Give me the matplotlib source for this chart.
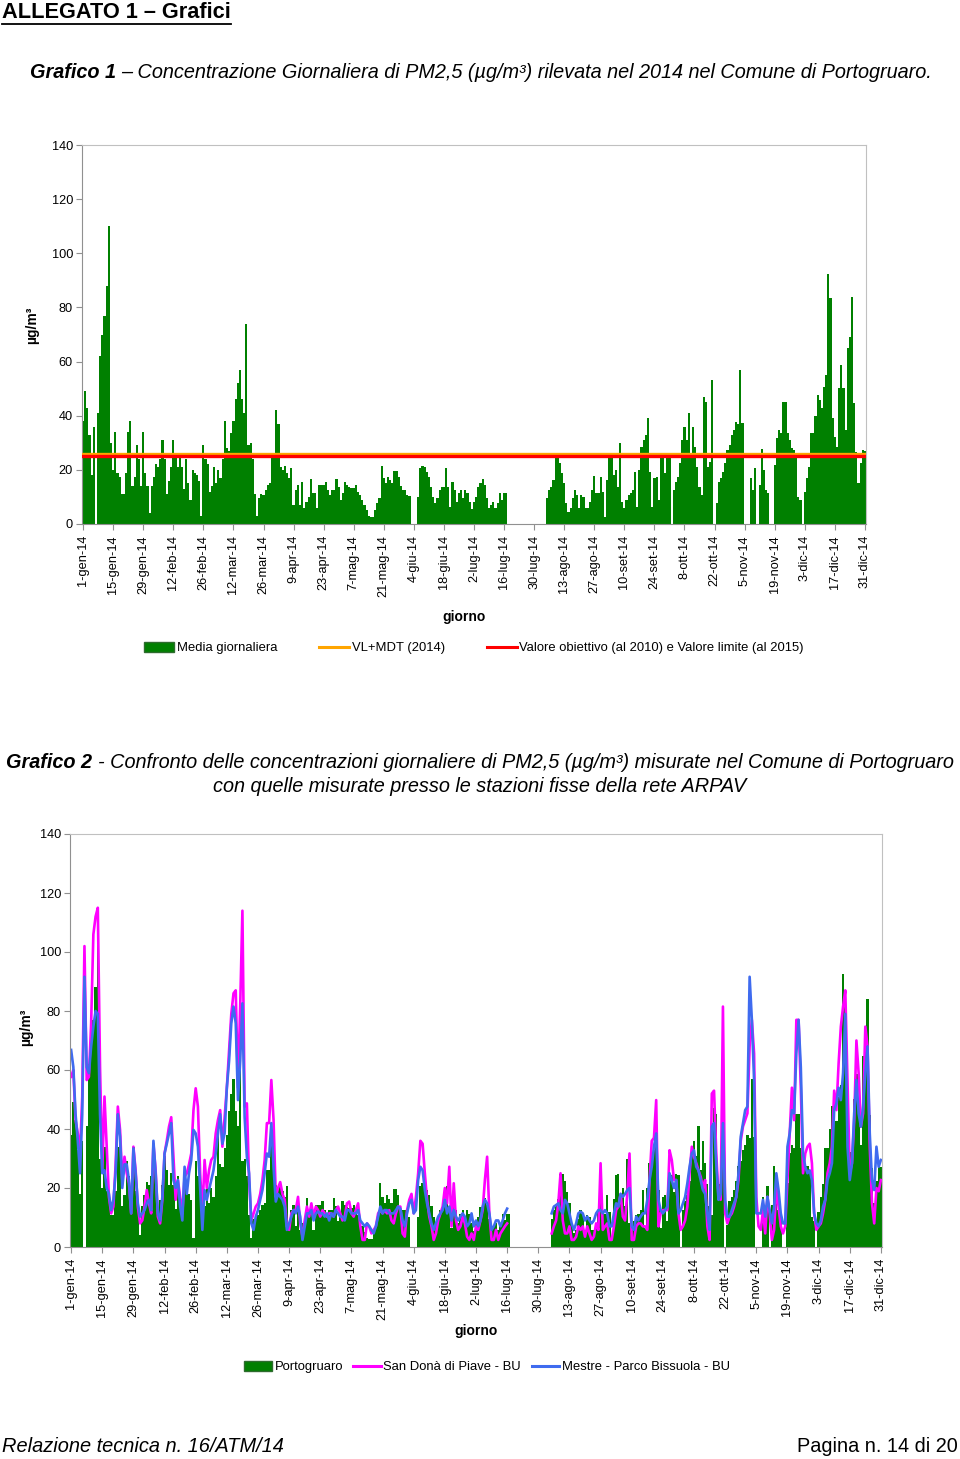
import numpy as np
import matplotlib
matplotlib.use("Agg")
import matplotlib.pyplot as plt
from matplotlib.lines import Line2D
from matplotlib.patches import Patch

plt.rcParams['font.family'] = ['Liberation Sans', 'DejaVu Sans']

N = np.nan

# ---- data (one value per day of 2014) ----
tick_days = list(range(0, 365, 14))
tick_labels = ["1-gen-14", "15-gen-14", "29-gen-14", "12-feb-14", "26-feb-14", "12-mar-14",
               "26-mar-14", "9-apr-14", "23-apr-14", "7-mag-14", "21-mag-14", "4-giu-14",
               "18-giu-14", "2-lug-14", "16-lug-14", "30-lug-14", "13-ago-14", "27-ago-14",
               "10-set-14", "24-set-14", "8-ott-14", "22-ott-14", "5-nov-14", "19-nov-14",
               "3-dic-14", "17-dic-14", "31-dic-14"]

portogruaro = [
    38, 49, 43, 33, 18, 36, N, 41, 62, 70, 77, 88, 110, 30,
    20, 34, 19, 17.5, 11, 11, 19, 34, 38, 14, 17.5, 29, 24, 14,
    34, 19, 14, 4, 14, 17.5, 22, 21, 24, 31, 24, 11, 16, 21,
    31, 26, 21, 25, 21, 13, 24, 15, 9, 20, 19, 18, 16, 3,
    29, 24, 22, 12, 14, 21, 15, 20, 17, 24, 38, 28, 27, 33.5,
    38, 46, 52, 57, 46, 41, 74, 29, 30, 24, 11, 3, 9.5, 11,
    10.7, 12.6, 14.4, 15, 26, 26, 42, 37, 21, 20, 21.6, 19, 17, 20.6,
    7, 12.6, 14.4, 7, 15.6, 5.8, 8.3, 10.1, 16.5, 11.3, 11.3, 5.8, 14.4, 14.4,
    14.4, 15.6, 12.6, 10.7, 12.6, 12.6, 16.5, 13.8, 8.9, 11.3, 15.6, 14.4, 13.5, 13.2,
    13.2, 14.4, 12, 10.7, 8.9, 7, 5.2, 3, 2.7, 2.7, 5, 7.6, 9.5, 21.6,
    16.9, 15, 17.5, 16.3, 15, 19.7, 19.7, 17.5, 14, 12.6, 12.6, 10.7, 10.3, N,
    N, N, 10.1, 20.6, 21.6, 21.2, 19.3, 17.5, 13.8, 10.1, 7.6, 9.5, 12.6, 13.8,
    13.8, 20.6, 13.8, 6.4, 15.6, 12.6, 8.3, 11.3, 12.6, 9.5, 12.6, 11.3, 8, 5.4,
    8.3, 10.1, 13.5, 15, 16.5, 14.4, 9.5, 5.8, 7, 8.3, 5.8, 7.6, 11.3, 9,
    11.3, 11.3, N, N, N, N, N, N, N, N, N, N, N, N,
    N, N, N, N, N, N, 9.5, 12.6, 13.8, 16.3, 24.9, 24.9, 22.4, 18.7,
    15, 7.6, 4.6, 5.8, 9.5, 12.6, 10.7, 5.8, 10.7, 10.1, 5.8, 5.8, 8, 12.6,
    17.7, 11.3, 11.3, 17.5, 11.9, 2.7, 16.3, 24.3, 24.9, 18.1, 20, 13.8, 29.8, 8.3,
    5.8, 8.9, 10.7, 11.3, 12.6, 19.3, 6.4, 20, 28.6, 31, 33, 39, 19.3, 6.4,
    16.9, 17.5, 8.9, 24.9, 24.3, 18.7, 24.9, 24.3, N, 12.6, 15.6, 17.5, 22.4, 31,
    36, 31, 40.9, 26.1, 36, 28.6, 21.2, 13.8, 10.7, 47, 45.2, 21.2, 23, 53.2,
    N, 7.6, 15.6, 16.9, 19.3, 22.4, 27.3, 29.2, 32.9, 34.7, 37.8, 36.9, 56.9, 37.2,
    N, N, N, 16.9, 12.6, 20.6, N, 14.4, 27.6, 20, 12.6, 11.3, N, N,
    21.8, 31.7, 34.7, 33.5, 45.2, 45.2, 33.5, 31, 28, 27.3, 26.1, 10.1, 8.9, N,
    11.9, 16.9, 21.2, 33.5, 33.5, 40, 47.7, 45.8, 42.7, 50.7, 55, 92.4, 83.4, 39,
    32.3, 28.6, 50.1, 58.7, 50.1, 34.7, 64.9, 69.2, 84, 44.6, 26.7, 15, 22.4, 27.3,
    27,
]

san_dona = [
    57.7, 60, 43, 38.5, 31.7, 51, 102, 56.6, 57.7, 75.8, 106, 112, 115, 61,
    26, 51, 34, 17, 11.4, 13.7, 28, 47.6, 39.7, 22.7, 30.6, 25, 21.6, 11.4,
    34, 26, 13.7, 8, 9, 13.7, 19.3, 14.8, 11.4, 35, 26, 10.3, 8, 16,
    31.7, 36, 40.8, 44, 30.6, 16, 22.7, 17, 11.4, 23.8, 25, 28, 31.7, 46.4,
    53.8, 47.6, 25, 11.4, 29.5, 20, 26, 29.5, 30.6, 38.5, 43, 46.4, 34, 44,
    54, 66.8, 79, 86, 87, 54, 81.5, 114, 47.6, 48.7, 22.7, 9, 11.4, 13.7,
    14.8, 18, 22.7, 29.5, 42, 42, 56.6, 43, 17, 20, 22, 18, 16, 7,
    5.8, 11.4, 12.5, 12.5, 17, 8, 3.5, 9, 13.7, 10.3, 14.8, 10.3, 13.7, 12.5,
    10.3, 12.5, 11.4, 10.3, 11.4, 11.4, 10.3, 12.5, 13.7, 11.4, 9, 10.3, 14.8, 15.4,
    11.4, 10.3, 12.5, 14.8, 7, 2.4, 2.4, 8, 7, 4.6, 5.8, 7, 11.4, 12.5,
    11.4, 12.5, 11.4, 12.5, 9, 8, 11.4, 13.7, 13.7, 4.6, 3.5, 12.5, 16, 18,
    11.4, 17, 25, 36, 35, 25, 16, 10.3, 7, 2.4, 4.6, 9, 11.4, 13.7,
    20, 14.8, 27.2, 7, 21.6, 9, 5.8, 7, 10.3, 8, 3.5, 2.4, 4.6, 2.4,
    7, 5.8, 9, 12.5, 22.7, 30.6, 11.4, 2.4, 2.4, 5.8, 2.4, 4.6, 5.8, 7,
    8, N, N, N, N, N, N, N, N, N, N, N, N, N,
    N, N, N, N, N, N, 4.6, 7, 9, 14.8, 25, 9, 4.6, 4.6,
    7, 2.4, 2.4, 3.5, 7, 5.8, 7, 3.5, 7, 4.6, 2.4, 3.5, 8, 5.8,
    28.4, 5.8, 7, 8, 2.4, 2.4, 7, 12.5, 13.7, 18, 10.3, 9, 18, 31.7,
    2.4, 2.4, 7, 8, 8, 7, 7, 5.8, 22.7, 36, 37, 49.8, 7, 11.4,
    12.5, 12.5, 12.5, 32.8, 29.5, 22.7, 22.7, 11.4, 5.8, 7, 9, 13.7, 25, 34,
    30.6, 28.4, 26, 23.8, 20, 22.7, 7, 2.4, 52, 53, 31.7, 17, 16, 81.5,
    11.4, 8, 10.3, 11.4, 13.7, 17, 22.7, 36, 40.8, 43, 45.3, 68, 77, 65.6,
    17, 7, 5.8, 12.5, 4.6, 17, 11.4, 2.4, 5.8, 20, 13.7, 7, 4.6, 7,
    22.7, 38.5, 54, 43, 77, 77, 54, 25, 31.7, 34, 35, 28.4, 11.4, 5.8,
    7, 8, 11.4, 16, 25, 28.4, 34, 53, 46.4, 62.3, 74.7, 81.5, 87, 56.6,
    25, 28.4, 43, 70, 58.9, 40.8, 45.3, 74.7, 68, 34, 14.8, 8, 20, 18.9,
    22.7,
]

mestre = [
    66.8, 61, 45, 36, 25, 45, 91.6, 61, 58.9, 68, 74.7, 80, 79, 45,
    25, 26, 20, 18, 12.5, 16, 25, 45, 37.4, 20, 28, 28, 22.7, 11.4,
    33.4, 25, 14.8, 10.3, 11.4, 12.5, 14.8, 16, 12.5, 36, 25, 11.4, 9, 17,
    31.7, 35, 38.5, 42, 22.7, 20, 22.7, 13.7, 9, 27.2, 18, 25, 29.5, 39.7,
    38.5, 34, 20, 5.8, 19.3, 16, 19.3, 22.7, 26, 31.7, 38.5, 45, 35, 38.5,
    54, 63, 75.8, 81.5, 75.8, 49.8, 63, 82.6, 44, 30.6, 25, 8, 5.8, 10.3,
    12.5, 16, 19.3, 25, 31.7, 30.6, 42, 27, 15.4, 18, 17, 16, 13.7, 5.8,
    8, 10.3, 12.5, 11.4, 13.7, 10.3, 2.4, 7, 11.4, 11.4, 12.5, 9, 11.4, 12,
    11.4, 11.4, 10.3, 11.4, 9, 11.4, 10.3, 12.5, 11.4, 10.3, 10.3, 9, 12.5, 12.5,
    11.4, 11.4, 11.4, 12.5, 9, 8, 7, 8, 7, 5.8, 4.6, 7, 10.3, 13.7,
    11.4, 12.5, 12.5, 11.4, 11.4, 11.4, 12.5, 13.7, 13, 9, 7, 11.4, 14.8, 16,
    11.4, 12.5, 22.7, 27.2, 26, 19.3, 14.8, 11.4, 8, 5.8, 8, 10.3, 11.4, 12.5,
    16, 11.4, 13.7, 9, 12.5, 10.3, 9, 10.3, 11.4, 10.3, 7, 8, 11.4, 7,
    9, 7, 9, 13.7, 16, 14.8, 11.4, 5.8, 7, 9, 9, 7, 9, 11.4,
    13, N, N, N, N, N, N, N, N, N, N, N, N, N,
    N, N, N, N, N, N, 11.4, 13.7, 14.2, 14.8, 12.5, 11.4, 16, 14.8,
    11.4, 8, 5.8, 8, 11.4, 12, 11.4, 9, 10.3, 9, 8, 9, 11.4, 12.5,
    12.5, 11.4, 12.5, 11.4, 7, 7, 11.4, 14.8, 13.7, 18, 17, 18, 19.3, 20,
    7, 5.8, 10.3, 9, 10.3, 11.4, 11.4, 16, 22.7, 27.2, 34, 38.5, 16, 12.5,
    11.4, 12.5, 13.7, 25, 22.7, 20, 22.7, 11.4, 12.5, 14.8, 17, 21.6, 27.2, 31.7,
    32.8, 27.2, 26, 22.7, 19.3, 18, 11.4, 5.8, 40.8, 42, 28.4, 16, 18, 42,
    16, 10.3, 10.3, 12.5, 14.8, 17, 25, 37.4, 42, 46.4, 47.6, 91.6, 77, 56.6,
    11.4, 11.4, 11.4, 16, 10.3, 17, 12.5, 8, 13.7, 25, 19.3, 11.4, 8, 8,
    34, 38.5, 46.4, 45.3, 65.6, 77, 61, 31.7, 27.2, 25, 26, 22.7, 11.4, 8,
    7, 9, 13.7, 16, 22.7, 25, 28.4, 46.4, 48.7, 54, 49.8, 58.9, 79, 34,
    22.7, 28.4, 45.3, 56.6, 45.3, 40.8, 47.6, 58.9, 68, 38.5, 22.7, 19.3, 34, 27.2,
    29.5,
]

vl_mdt_2014 = 26      # VL + margine di tolleranza 2014
valore_limite = 25    # valore obiettivo 2010 / limite 2015

GREEN = '#008000'
TITLE_SIZE = 14.3
W, H = 960, 1459
fig = plt.figure(figsize=(W / 100, H / 100), dpi=100)
renderer = fig.canvas.get_renderer()
days = np.arange(len(portogruaro))


def px_rect(left, top, right, bottom):
    return [left / W, 1 - bottom / H, (right - left) / W, (bottom - top) / H]


def style_axis(ax):
    ax.set_xlim(-0.5, 364.5)
    ax.set_ylim(0, 140)
    ax.set_yticks(range(0, 141, 20))
    ax.set_xticks(tick_days)
    ax.set_xticklabels(tick_labels, rotation=90, fontsize=9.2)
    ax.tick_params(axis='y', labelsize=9.2, length=4, color='#909090', pad=2.5)
    ax.tick_params(axis='x', length=4, color='#909090', pad=4)
    for s in ax.spines.values():
        s.set_color('#c0c0c0')
    ax.spines['left'].set_color('#909090')
    ax.spines['bottom'].set_color('#909090')


def rich_line(x_px, y_px, parts, size, center=False):
    # pieces of one line with different weights, placed side by side
    gap = 0.278 * size * 100 / 72
    texts, widths = [], []
    for s, weight in parts:
        t = fig.text(0, 0, s, fontsize=size, style='italic', weight=weight, va='center')
        texts.append(t)
        widths.append(t.get_window_extent(renderer).width)
    total = sum(widths) + gap * (len(parts) - 1)
    x = x_px - total / 2 if center else x_px
    for t, w in zip(texts, widths):
        t.set_position((x / W, 1 - y_px / H))
        x += w + gap


# ---- header ----
t = fig.text(2 / W, 1 - 12 / H, "ALLEGATO 1 – Grafici", fontsize=15.7, weight='bold', va='center')
tw = t.get_window_extent(renderer).width
fig.add_artist(Line2D([2 / W, (2 + tw) / W], [1 - 23.5 / H, 1 - 23.5 / H], color='black', lw=1.3))

rich_line(30, 73, [("Grafico 1", 'bold'),
                   ("– Concentrazione Giornaliera di PM2,5 (µg/m³) rilevata nel 2014 nel Comune di Portogruaro.", 'normal')],
          TITLE_SIZE)

# ---- chart 1 ----
ax1 = fig.add_axes(px_rect(82, 145, 866, 524))
ax1.bar(days, np.nan_to_num(portogruaro), width=1.0, color=GREEN, linewidth=0)
ax1.axhline(vl_mdt_2014, color='#FFA500', lw=2.4, zorder=3)
ax1.axhline(valore_limite, color='#FF0000', lw=2.4, zorder=4)
style_axis(ax1)
fig.text(32 / W, 1 - 325 / H, "µg/m³", rotation=90, fontsize=10, weight='bold', ha='center', va='center')
fig.text(464 / W, 1 - 617 / H, "giorno", fontsize=10, weight='bold', ha='center', va='center')

h1 = [Patch(facecolor=GREEN, edgecolor='#2e6b2e'),
      Line2D([], [], color='#FFA500', lw=2.2),
      Line2D([], [], color='#FF0000', lw=2.2)]
fig.legend(h1, ["Media giornaliera", "VL+MDT (2014)",
                "Valore obiettivo (al 2010) e Valore limite (al 2015)"],
           loc='center', bbox_to_anchor=(474 / W, 1 - 648 / H), ncol=3, frameon=False,
           fontsize=9.4, handlelength=2.3, handleheight=0.8, handletextpad=0.2, columnspacing=3.2)

# ---- chart 2 ----
rich_line(480, 763, [("Grafico 2", 'bold'),
                     ("- Confronto delle concentrazioni giornaliere di PM2,5 (µg/m³) misurate nel Comune di Portogruaro", 'normal')],
          TITLE_SIZE, center=True)
rich_line(480, 786, [("con quelle misurate presso le stazioni fisse della rete ARPAV", 'normal')], TITLE_SIZE, center=True)

ax2 = fig.add_axes(px_rect(70, 834, 882, 1247))
ax2.bar(days, np.nan_to_num(portogruaro), width=1.0, color=GREEN, linewidth=0)
ax2.plot(days, san_dona, color='#FF00FF', lw=1.9)
ax2.plot(days, mestre, color='#3F6BEF', lw=1.9)
style_axis(ax2)
fig.text(26 / W, 1 - 1027 / H, "µg/m³", rotation=90, fontsize=10, weight='bold', ha='center', va='center')
fig.text(476 / W, 1 - 1331 / H, "giorno", fontsize=10, weight='bold', ha='center', va='center')

h2 = [Patch(facecolor=GREEN, edgecolor='#2e6b2e'),
      Line2D([], [], color='#FF00FF', lw=2.2),
      Line2D([], [], color='#3F6BEF', lw=2.2)]
fig.legend(h2, ["Portogruaro", "San Donà di Piave - BU", "Mestre - Parco Bissuola - BU"],
           loc='center', bbox_to_anchor=(487 / W, 1 - 1367 / H), ncol=3, frameon=False,
           fontsize=9.4, handlelength=2.1, handleheight=0.8, handletextpad=0.2, columnspacing=0.8)

# ---- footer ----
fig.text(2 / W, 1 - 1447 / H, "Relazione tecnica n. 16/ATM/14", fontsize=14.4, style='italic', va='center')
fig.text(958 / W, 1 - 1447 / H, "Pagina n. 14 di 20", fontsize=14.3, ha='right', va='center')

fig.savefig("out.png", dpi=100)
